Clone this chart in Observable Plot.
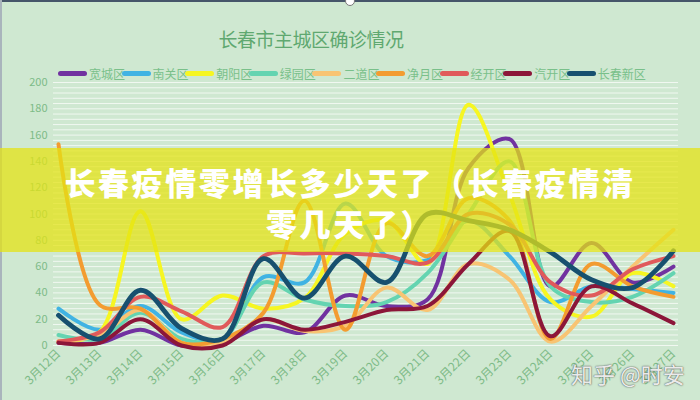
<!DOCTYPE html>
<html>
<head>
<meta charset="utf-8">
<script src="https://cdn.jsdelivr.net/npm/d3@7"></script>
<script src="https://cdn.jsdelivr.net/npm/@observablehq/plot@0.6"></script>
<style>
  html, body { margin: 0; padding: 0; }
  body { width: 700px; height: 400px; overflow: hidden; background: #cfe8d1; font-family: "Noto Sans CJK SC", "Noto Sans", sans-serif; position: relative; }
  #frame-top { position: absolute; left: 0; top: 0; width: 700px; height: 2px; background: #46566a; }
  #frame-left { position: absolute; left: 0; top: 0; width: 2px; height: 400px; background: #a9b4bc; }
  #handle { position: absolute; left: 345px; top: -4px; width: 8px; height: 8px; border-radius: 50%; background: #fff; border: 1px solid #777; }
  #title { position: absolute; left: 0; width: 622px; top: 25px; text-align: center; font-size: 19px; color: #5fa870; letter-spacing: -0.5px; }
  #legend { position: absolute; left: 0; top: 65px; width: 700px; height: 16px; }
  .item { position: absolute; top: 0; display: flex; align-items: center; font-size: 12px; color: #79c08a; height: 16px; white-space: nowrap; }
  .sw { width: 29px; height: 5px; border-radius: 3px; margin-right: 2px; }
  #chart { position: absolute; left: 0; top: 68px; }
  #band { position: absolute; left: 0; top: 148px; width: 700px; height: 104px; background: rgba(228, 226, 20, 0.74); }
  .headline { position: absolute; left: 0; width: 700px; text-align: center; color: #fff; font-weight: 900; font-size: 31px; letter-spacing: 2.6px; line-height: 36px; }
  #h1 { top: 164px; }
  #h2 { top: 205px; }
  #mark { position: absolute; left: 571px; top: 357px; font-size: 22px; color: rgba(255,255,255,0.9); text-shadow: 0 0 1px #555, 0 0 2px rgba(0,0,0,0.5); }
</style>
</head>
<body>
<div id="frame-top"></div>
<div id="frame-left"></div>
<div id="handle"></div>
<div id="title">长春市主城区确诊情况</div>
<div id="legend"></div>
<div id="chart"></div>
<div id="band"></div>
<div class="headline" id="h1">长春疫情零增长多少天了（长春疫情清</div>
<div class="headline" id="h2">零几天了）</div>
<div id="mark">知乎 @时安</div>
<script>
const dates = ["3月12日","3月13日","3月14日","3月15日","3月16日","3月17日","3月18日","3月19日","3月20日","3月21日","3月22日","3月23日","3月24日","3月25日","3月26日","3月27日"];
const names = ["宽城区","南关区","朝阳区","绿园区","二道区","净月区","经开区","汽开区","长春新区"];
const colors = ["#7132a0","#40b3e3","#f6f622","#64d4b1","#f8c473","#f39c30","#e05a5b","#8c1639","#17506f"];
const widths = [4, 4, 4, 4, 4, 4, 4, 4, 4.8];

const kuancheng = [2, 2, 12, 0, 2, 15, 10, 38, 30, 35, 135, 157, 45, 78, 48, 60];
const nanguan   = [28, 12, 30, 10, 5, 52, 48, 108, 68, 65, 95, 68, 33, 45, 43, 40];
const chaoyang  = [3, 10, 102, 20, 38, 28, 36, 85, 95, 62, 183, 115, 35, 22, 55, 45];
const lvyuan    = [8, 5, 25, 5, 5, 48, 35, 30, 33, 55, 100, 140, 45, 33, 37, 55];
const erdao     = [3, 8, 27, 2, 2, 20, 11, 15, 44, 27, 62, 50, 3, 30, 60, 88];
const jingyue   = [153, 31, 28, 2, 5, 25, 110, 12, 93, 68, 112, 95, 5, 62, 45, 37];
const jingkai   = [3, 10, 37, 26, 14, 68, 70, 70, 68, 63, 100, 92, 48, 38, 58, 68];
const qikai     = [2, 2, 20, 0, 0, 20, 12, 18, 27, 30, 62, 87, 7, 45, 32, 17];
const xinqu     = [23, 5, 42, 13, 5, 66, 36, 68, 48, 100, 95, 88, 71, 50, 44, 72];

const yTicks = [0, 20, 40, 60, 80, 100, 120, 140, 160, 180, 200];

const seriesValues = [kuancheng, nanguan, chaoyang, lvyuan, erdao, jingyue, jingkai, qikai, xinqu];

// legend
const legend = document.getElementById("legend");
names.forEach((n, i) => {
  const it = document.createElement("div");
  it.className = "item";
  it.style.left = (58 + i * 63.6) + "px";
  const sw = document.createElement("div");
  sw.className = "sw";
  sw.style.background = colors[i];
  it.appendChild(sw);
  const t = document.createElement("span");
  t.textContent = n;
  it.appendChild(t);
  legend.appendChild(it);
});

const rows = [];
names.forEach((n, i) => {
  seriesValues[i].forEach((v, j) => rows.push({series: n, date: dates[j], value: v}));
});

const chart = Plot.plot({
  width: 700,
  height: 332,
  marginTop: 14,
  marginBottom: 55,
  marginLeft: 53,
  marginRight: 22,
  style: {background: "transparent", fontFamily: "'Noto Sans CJK SC', 'Noto Sans', sans-serif", overflow: "visible"},
  x: {type: "point", domain: dates, padding: 0},
  y: {domain: [0, 200]},
  marks: [
    Plot.ruleY(d3.range(0, 201, 4), {stroke: "#ffffff", strokeOpacity: 0.7, strokeWidth: 1}),
    Plot.axisY({ticks: yTicks, tickSize: 0, tickPadding: 6, label: null, fill: "#7dbb87", fontSize: 11}),
    Plot.axisX({tickSize: 0, tickPadding: 6, tickRotate: -45, label: null, fill: "#7dbb87", fontSize: 12}),
    ...names.map((n, i) => Plot.line(rows.filter(d => d.series === n), {
      x: "date", y: "value", stroke: colors[i], strokeWidth: widths[i], curve: "catmull-rom"
    }))
  ]
});
document.getElementById("chart").appendChild(chart);
</script>
</body>
</html>
